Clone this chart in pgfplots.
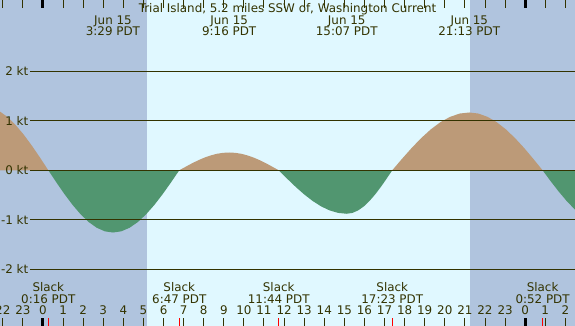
\documentclass[border=0pt]{standalone}
\usepackage{pgfplots}
\pgfplotsset{compat=1.18}
\usepackage{fontspec}
\setmainfont{DejaVu Sans}
\definecolor{night}{HTML}{B0C4DE}
\definecolor{day}{HTML}{E0F8FF}
\definecolor{flood}{HTML}{BC9A78}
\definecolor{ebb}{HTML}{519670}
\definecolor{ink}{HTML}{333300}
\begin{document}
\begin{tikzpicture}[font=\fontsize{11.9}{13}\selectfont]
\useasboundingbox (0,0) rectangle (575pt,326pt);
\begin{axis}[at={(0,0)}, anchor=south west, scale only axis,
  width=575pt, height=326pt,
  xmin=-2.14, xmax=26.48, ymin=-3.152, ymax=3.447,
  axis line style={draw=none}, ytick=\empty,
  xtick={-2,-1,0,1,2,3,4,5,6,7,8,9,10,11,12,13,14,15,16,17,18,19,20,21,22,23,24,25,26},
  xticklabels={22,23,0,1,2,3,4,5,6,7,8,9,10,11,12,13,14,15,16,17,18,19,20,21,22,23,0,1,2},
  xtick align=inside, major tick length=8pt,
  tick style={color=ink, line width=1pt},
  xticklabel style={anchor=base, yshift=11pt, text=ink, font=\fontsize{11.9}{13}\selectfont},
  extra x ticks={0,24}, extra x tick labels={},
  extra x tick style={tick style={line width=3pt, color=black}},
  axis on top, clip=true]
\fill[night] (rel axis cs:0,0) rectangle (rel axis cs:1,1);
\fill[day] (axis cs:5.162,-3.152) rectangle (axis cs:21.25,3.447);
% flood / ebb lobes
\addplot[fill=flood, draw=none] coordinates {(-3.0,1.3) (-2.592,1.275) (-2.184,1.201) (-1.776,1.081) (-1.368,0.919) (-0.960,0.722) (-0.552,0.497) (-0.144,0.254) (0.264,0)} \closedcycle;
\addplot[fill=ebb, draw=none] coordinates {(0.264,0) (0.666,-0.246) (1.069,-0.482) (1.471,-0.700) (1.873,-0.891) (2.276,-1.048) (2.678,-1.164) (3.081,-1.236) (3.483,-1.26) (3.896,-1.236) (4.308,-1.164) (4.721,-1.048) (5.133,-0.891) (5.546,-0.700) (5.958,-0.482) (6.371,-0.246) (6.783,0)} \closedcycle;
\addplot[fill=flood, draw=none] coordinates {(6.783,0) (7.094,0.070) (7.404,0.138) (7.715,0.200) (8.025,0.255) (8.336,0.299) (8.646,0.333) (8.957,0.353) (9.267,0.36) (9.575,0.353) (9.884,0.333) (10.192,0.299) (10.500,0.255) (10.808,0.200) (11.117,0.138) (11.425,0.070) (11.733,0)} \closedcycle;
\addplot[fill=ebb, draw=none] coordinates {(11.733,0) (12.156,-0.172) (12.579,-0.337) (13.002,-0.489) (13.425,-0.622) (13.848,-0.732) (14.271,-0.813) (14.694,-0.863) (15.117,-0.88) (15.400,-0.863) (15.683,-0.813) (15.967,-0.732) (16.250,-0.622) (16.533,-0.489) (16.817,-0.337) (17.100,-0.172) (17.383,0)} \closedcycle;
\addplot[fill=flood, draw=none] coordinates {(17.383,0) (17.862,0.228) (18.342,0.448) (18.821,0.650) (19.300,0.827) (19.779,0.973) (20.259,1.081) (20.738,1.148) (21.217,1.17) (21.673,1.148) (22.129,1.081) (22.586,0.973) (23.042,0.827) (23.498,0.650) (23.955,0.448) (24.411,0.228) (24.867,0)} \closedcycle;
\addplot[fill=ebb, draw=none] coordinates {(24.867,0) (25.258,-0.215) (25.650,-0.421) (26.042,-0.611) (26.433,-0.778) (26.825,-0.915) (27.2,-1.0)} \closedcycle;
% speed lines and labels
\pgfplotsinvokeforeach{-2,-1,0,1,2}{
  \draw[ink, line width=1pt] (axis cs:-0.647,#1) -- (axis cs:26.48,#1);
  \node[anchor=east, text=ink, inner sep=1.5pt] at (axis cs:-0.647,#1) {#1 kt};
}
% slack ticks
\pgfplotsinvokeforeach{0.264,6.783,11.733,17.383,24.867}{
  \draw[red, line width=1pt] (axis cs:#1,-3.152) -- ([yshift=8pt]axis cs:#1,-3.152);
}
% title
\node[anchor=base, text=ink] at (rel axis cs:0.5,0.9610) {Trial Island, 5.2 miles SSW of, Washington Current};
% maxima labels
\node[anchor=base, text=ink] at (axis cs:3.483,2.955) {Jun 15};
\node[anchor=base, text=ink] at (axis cs:3.483,2.719) {3:29 PDT};
\node[anchor=base, text=ink] at (axis cs:9.267,2.955) {Jun 15};
\node[anchor=base, text=ink] at (axis cs:9.267,2.719) {9:16 PDT};
\node[anchor=base, text=ink] at (axis cs:15.117,2.955) {Jun 15};
\node[anchor=base, text=ink] at (axis cs:15.117,2.719) {15:07 PDT};
\node[anchor=base, text=ink] at (axis cs:21.217,2.955) {Jun 15};
\node[anchor=base, text=ink] at (axis cs:21.217,2.719) {21:13 PDT};
% slack labels
\node[anchor=base, text=ink] at (axis cs:0.264,-2.457) {Slack};
\node[anchor=base, text=ink] at (axis cs:0.264,-2.692) {0:16 PDT};
\node[anchor=base, text=ink] at (axis cs:6.783,-2.457) {Slack};
\node[anchor=base, text=ink] at (axis cs:6.783,-2.692) {6:47 PDT};
\node[anchor=base, text=ink] at (axis cs:11.733,-2.457) {Slack};
\node[anchor=base, text=ink] at (axis cs:11.733,-2.692) {11:44 PDT};
\node[anchor=base, text=ink] at (axis cs:17.383,-2.457) {Slack};
\node[anchor=base, text=ink] at (axis cs:17.383,-2.692) {17:23 PDT};
\node[anchor=base, text=ink] at (axis cs:24.867,-2.457) {Slack};
\node[anchor=base, text=ink] at (axis cs:24.867,-2.692) {0:52 PDT};
\end{axis}
\end{tikzpicture}
\end{document}
